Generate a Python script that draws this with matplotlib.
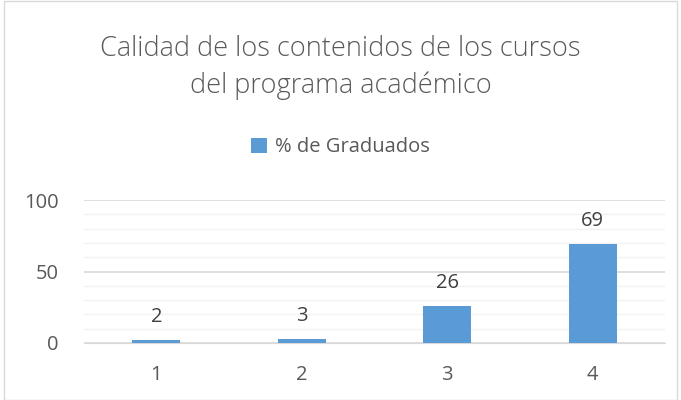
import matplotlib.pyplot as plt
from matplotlib.patches import Rectangle
from matplotlib.ticker import MultipleLocator

categories = ["1", "2", "3", "4"]
graduados = [2, 3, 26, 69]
title = "Calidad de los contenidos de los cursos\ndel programa académico"
series_name = "% de Graduados"

plt.rcParams['font.family'] = ['Open Sans', 'DejaVu Sans']
txt = "#595959"
blue = "#5B9BD5"

fig = plt.figure(figsize=(6.81, 4.0), dpi=100)
ax = fig.add_axes([0.123, 0.1425, 0.854, 0.3575])

x = range(len(categories))
bars = ax.bar(x, graduados, width=0.33, color=blue, label=series_name, zorder=3)
for xi, v in zip(x, graduados):
    ax.text(xi, v + 9, str(v), ha='center', va='bottom', fontsize=14.5, color="#404040")

ax.set_xlim(-0.5, 3.5)
ax.set_ylim(0, 100)
ax.yaxis.set_major_locator(MultipleLocator(50))
ax.yaxis.set_minor_locator(MultipleLocator(10))
ax.set_xticks(list(x))
ax.set_xticklabels(categories)
ax.grid(axis='y', which='major', color='#D9D9D9', lw=1.2, zorder=0)
ax.grid(axis='y', which='minor', color='#F2F2F2', lw=1.0, zorder=0)
for s in ['top', 'right', 'left']:
    ax.spines[s].set_visible(False)
ax.spines['bottom'].set_color('#D9D9D9')
ax.tick_params(axis='both', which='both', length=0, labelsize=14.5, colors=txt)
ax.tick_params(axis='x', pad=16)
ax.tick_params(axis='y', pad=18)

fig.text(0.5, 0.831, title, ha='center', va='center', fontsize=19.5, color=txt,
         linespacing=1.42, fontweight='light')
fig.legend(handles=[bars], labels=[series_name], loc='center', bbox_to_anchor=(0.5, 0.632),
           frameon=False, fontsize=14.5, labelcolor=txt, handlelength=0.75, handleheight=0.75,
           handletextpad=0.4)

fig.patches.append(Rectangle((0.006, 0.0), 0.988, 0.998, transform=fig.transFigure,
                             fill=False, edgecolor='#D9D9D9', lw=1))

fig.savefig("out.png", dpi=100)
